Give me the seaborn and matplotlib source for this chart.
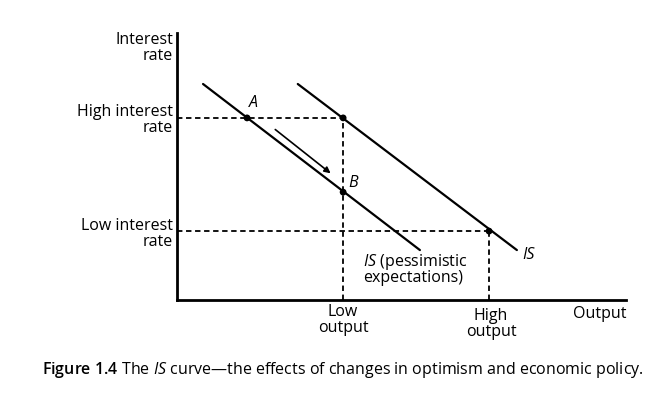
import matplotlib
matplotlib.use("Agg")
import matplotlib.pyplot as plt
import seaborn as sns
import pandas as pd

sns.set_theme(style="white")
plt.rcParams['font.family'] = ['Open Sans', 'DejaVu Sans']
plt.rcParams['mathtext.fontset'] = 'custom'
plt.rcParams['mathtext.rm'] = 'Open Sans'
plt.rcParams['mathtext.it'] = 'Open Sans:italic'
plt.rcParams['mathtext.bf'] = 'Open Sans:semibold'
plt.rcParams['text.color'] = 'black'

# Data (arbitrary units)
is_pess_x = [0.58, 5.41]
is_pess_y = [8.09, 1.87]
is_opt_x = [2.69, 7.57]
is_opt_y = [8.09, 1.87]
low_output = 3.70
high_output = 6.95
high_rate = 6.82
low_rate = 2.58
point_names = ["A", "B", "C", "D"]
point_x = [1.56, 3.70, 3.70, 6.95]
point_y = [6.82, 4.04, 6.82, 2.58]
arrow_start = (2.14, 6.45)
arrow_end = (3.47, 4.68)

fig = plt.figure(figsize=(6.59, 3.93), dpi=100)
ax = fig.add_axes([177/659, 93/393, 449/659, 267/393])
ax.set_xlim(0, 10)
ax.set_ylim(0, 10)

pess = pd.DataFrame({"x": is_pess_x, "y": is_pess_y})
opt = pd.DataFrame({"x": is_opt_x, "y": is_opt_y})
sns.lineplot(data=pess, x="x", y="y", ax=ax, color="black", lw=1.6, sort=False)
sns.lineplot(data=opt, x="x", y="y", ax=ax, color="black", lw=1.6, sort=False)

dash = dict(color="black", lw=1.3, ls=(0, (3, 2)))
ax.plot([0, low_output], [high_rate, high_rate], **dash)
ax.plot([low_output, low_output], [0, high_rate], **dash)
ax.plot([0, high_output], [low_rate, low_rate], **dash)
ax.plot([high_output, high_output], [0, low_rate], **dash)

pts = pd.DataFrame({"x": point_x, "y": point_y})
sns.scatterplot(data=pts, x="x", y="y", ax=ax, color="black", s=24, zorder=5, edgecolor="none")

ax.annotate("", xy=arrow_end, xytext=arrow_start,
            arrowprops=dict(arrowstyle="-|>", color="black", lw=1.2, mutation_scale=9))

fs = 11.5
ax.text(point_x[0] + 0.05, point_y[0] + 0.25, "A", style="italic", fontsize=fs, ha="left", va="bottom")
ax.text(point_x[1] + 0.12, point_y[1] + 0.35, "B", style="italic", fontsize=fs, ha="left", va="center")
ax.text(7.68, 1.68, "IS", style="italic", fontsize=fs, ha="left", va="center")
ax.text(4.15, 1.15, "$\\it{IS}$ (pessimistic\nexpectations)", fontsize=fs, ha="left", va="center", linespacing=0.85)

ax.set_xticks([])
ax.set_yticks([])
ax.set_xlabel("")
ax.set_ylabel("")

lab = dict(fontsize=fs, linespacing=1.0)
fig.text(173/659, 1 - 48/393, "Interest\nrate", ha="right", va="center", **lab)
fig.text(173/659, 1 - 120/393, "High interest\nrate", ha="right", va="center", **lab)
fig.text(173/659, 1 - 234/393, "Low interest\nrate", ha="right", va="center", **lab)
fig.text(343/659, 1 - 320/393, "Low\noutput", ha="center", va="center", **lab)
fig.text(491/659, 1 - 324/393, "High\noutput", ha="center", va="center", **lab)
fig.text(600/659, 1 - 314/393, "Output", ha="center", va="center", **lab)

fig.text(42/659, 1 - 370/393, "$\\bf{Figure\\ 1.4}$ The $\\it{IS}$ curve\u2014the effects of changes in optimism and economic policy.",
         ha="left", va="center", fontsize=11.55)

for s in ["top", "right"]:
    ax.spines[s].set_visible(False)
for s in ["left", "bottom"]:
    ax.spines[s].set_linewidth(2)
    ax.spines[s].set_color("black")
ax.set_facecolor("white")
fig.patch.set_facecolor("white")

fig.savefig("out.png", dpi=100)
